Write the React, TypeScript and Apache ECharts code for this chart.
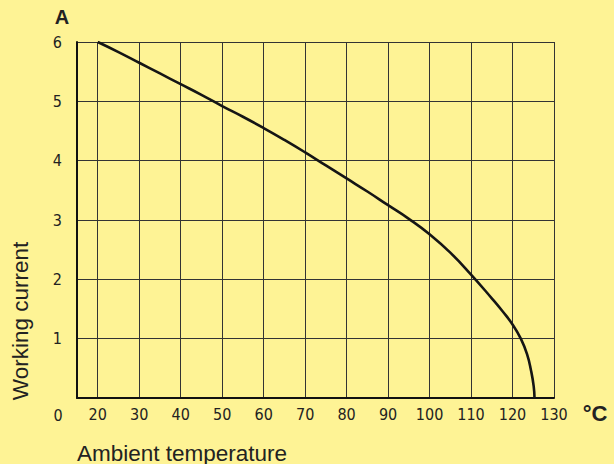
import React, { useEffect, useRef } from "react";
import * as echarts from "echarts";

// Ambient temperature (°C) and working current (A)
const temperatures = [
  20, 25, 30, 35, 40, 45, 50, 55, 60, 65, 70, 75, 80, 85, 90, 95, 100, 105, 110, 115, 117.5, 120, 122, 123.5,
  124.5, 125.1, 125.3,
];
const currents = [
  6.0, 5.83, 5.65, 5.47, 5.29, 5.11, 4.92, 4.74, 4.55, 4.35, 4.14, 3.92, 3.7, 3.48, 3.25, 3.02, 2.76, 2.45,
  2.08, 1.68, 1.47, 1.24, 1.0, 0.74, 0.45, 0.2, 0,
];

const xTickValues = [20, 30, 40, 50, 60, 70, 80, 90, 100, 110, 120, 130];
const xMin = 15;
const xMax = 130;
const yMin = 0;
const yMax = 6;

const xTitle = "Ambient temperature";
const yTitle = "Working current";
const xUnit = "°C";
const yUnit = "A";
const originLabel = "0";

const BG = "#fef395";
const INK = "#222222";
const TICK_FONT = "'Liberation Sans Narrow', 'DejaVu Sans Condensed', 'Liberation Sans', sans-serif";
const TITLE_FONT = "'Liberation Sans', Arial, sans-serif";

export default function App() {
  const ref = useRef<HTMLDivElement>(null);

  useEffect(() => {
    if (!ref.current) return;
    const chart = echarts.init(ref.current, undefined, { renderer: "svg" });
    const data = temperatures.map((t, i) => [t, currents[i]]);

    chart.setOption({
      animation: false,
      backgroundColor: BG,
      grid: { left: 77, right: 60, top: 42, bottom: 66, containLabel: false },
      xAxis: {
        type: "value",
        min: xMin,
        max: xMax,
        axisLine: { show: true, onZero: false, lineStyle: { color: "#111", width: 2 } },
        axisTick: { show: false, customValues: xTickValues },
        axisLabel: {
          customValues: xTickValues,
          margin: 8,
          color: INK,
          fontSize: 16,
          fontFamily: TICK_FONT,
        },
        splitLine: { show: true, lineStyle: { color: "#333", width: 1 } },
      },
      yAxis: {
        type: "value",
        min: yMin,
        max: yMax,
        interval: 1,
        axisLine: { show: true, onZero: false, lineStyle: { color: "#111", width: 2 } },
        axisTick: { show: false },
        axisLabel: {
          margin: 15,
          color: INK,
          fontSize: 16,
          fontFamily: TICK_FONT,
          formatter: (v: number) => (v === 0 ? "" : String(v)),
        },
        splitLine: { show: true, lineStyle: { color: "#333", width: 1 } },
      },
      series: [
        {
          type: "line",
          data,
          showSymbol: false,
          smooth: 0.5,
          lineStyle: { color: "#151515", width: 2.6 },
          z: 5,
        },
      ],
      graphic: [
        {
          type: "text",
          x: 62,
          y: 17,
          style: { text: yUnit, align: "center", verticalAlign: "middle", fontSize: 20, fontWeight: "bold", fontFamily: TITLE_FONT, fill: INK },
        },
        {
          type: "text",
          x: 595,
          y: 413,
          style: { text: xUnit, align: "center", verticalAlign: "middle", fontSize: 22, fontWeight: "bold", fontFamily: TITLE_FONT, fill: INK },
        },
        {
          type: "text",
          x: 58,
          y: 415,
          style: { text: originLabel, align: "center", verticalAlign: "middle", fontSize: 16, fontFamily: TICK_FONT, fill: INK },
        },
        {
          type: "text",
          x: 77,
          y: 453,
          style: { text: xTitle, align: "left", verticalAlign: "middle", fontSize: 22.5, fontFamily: TITLE_FONT, fill: INK },
        },
        {
          type: "text",
          x: 20,
          y: 321,
          rotation: Math.PI / 2,
          style: { text: yTitle, align: "center", verticalAlign: "middle", fontSize: 22.5, fontFamily: TITLE_FONT, fill: INK },
        },
      ],
    });

    return () => chart.dispose();
  }, []);

  return (
    <div
      ref={ref}
      style={{ position: "fixed", left: 0, top: 0, width: 614, height: 464, background: BG }}
    />
  );
}
